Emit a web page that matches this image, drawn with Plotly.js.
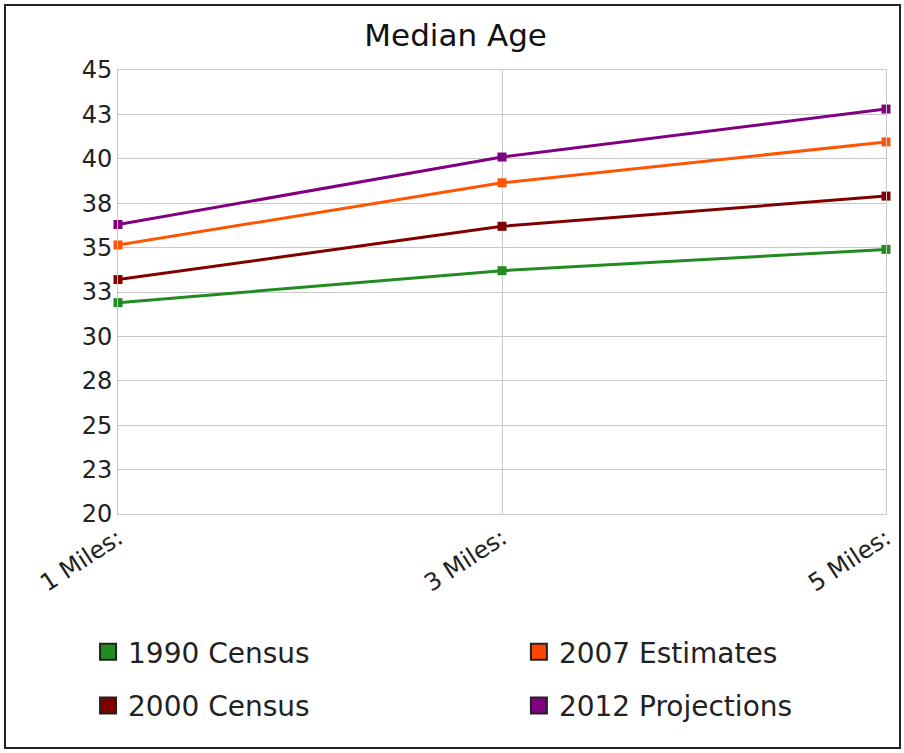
<!DOCTYPE html>
<html>
<head>
<meta charset="utf-8">
<script src="https://cdn.plot.ly/plotly-3.0.1.min.js"></script>
<style>
html,body{margin:0;padding:0;background:#fff;}
#frame{position:absolute;left:4px;top:4px;width:897px;height:745px;border:2px solid #222;box-sizing:border-box;pointer-events:none;z-index:10;}
#chart{position:absolute;left:0;top:0;width:904px;height:753px;}
</style>
</head>
<body>
<div id="chart"></div>
<div id="frame"></div>
<script>
const categories = ["1 Miles:", "3 Miles:", "5 Miles:"];
const census1990 = [31.9, 33.7, 34.9];
const census2000 = [33.2, 36.2, 37.9];
const estimates2007 = [35.15, 38.65, 40.95];
const projections2012 = [36.3, 40.1, 42.8];
const seriesNames = ["1990 Census", "2000 Census", "2007 Estimates", "2012 Projections"];
const seriesColors = ["#228B22", "#800000", "#FF5500", "#800080"];
const legendColors = ["#228B22", "#800000", "#FF4500", "#800080"];
const yTickVals = [20, 22.5, 25, 27.5, 30, 32.5, 35, 37.5, 40, 42.5, 45];
const yTickText = ["20", "23", "25", "28", "30", "33", "35", "38", "40", "43", "45"];

const allSeries = [census1990, census2000, estimates2007, projections2012];
const legendIds = ["legend", "legend3", "legend2", "legend4"];

const traces = allSeries.map((vals, i) => ({
  type: "scatter", mode: "lines+markers",
  x: categories, y: vals, name: seriesNames[i],
  line: {color: seriesColors[i], width: 3},
  marker: {symbol: "square", size: 9, color: seriesColors[i]},
  showlegend: false, cliponaxis: false
}));
allSeries.forEach((vals, i) => {
  traces.push({
    type: "scatter", mode: "markers",
    x: [null], y: [null], name: seriesNames[i],
    marker: {symbol: "square", size: 16, color: legendColors[i], line: {color: "#222", width: 2}},
    showlegend: true, legend: legendIds[i], hoverinfo: "skip"
  });
});

const legFont = {family: "DejaVu Sans", size: 28, color: "#222"};
function leg(x, y) {
  return {x: x, y: y, xanchor: "left", yanchor: "middle", xref: "paper", yref: "paper",
    font: legFont, bgcolor: "rgba(0,0,0,0)", borderwidth: 0, itemsizing: "trace"};
}

const layout = {
  width: 904, height: 753,
  margin: {l: 118, r: 18, t: 70, b: 239},
  paper_bgcolor: "#fff", plot_bgcolor: "#fff",
  font: {family: "DejaVu Sans", color: "#222"},
  title: {text: "Median Age", font: {family: "DejaVu Sans", size: 31, color: "#111"},
    x: 0.504, xanchor: "center", xref: "container", y: 0.953, yanchor: "middle"},
  xaxis: {
    type: "category", range: [0, 2], showgrid: true, gridcolor: "#c8c8c8", gridwidth: 1,
    showline: true, linecolor: "#c8c8c8", linewidth: 1, mirror: true,
    zeroline: false, ticks: "", tickangle: -33,
    tickfont: {family: "DejaVu Sans", size: 24, color: "#222"}
  },
  yaxis: {
    range: [20, 45], tickvals: yTickVals, ticktext: yTickText,
    showgrid: true, gridcolor: "#c8c8c8", gridwidth: 1,
    showline: true, linecolor: "#c8c8c8", linewidth: 1, mirror: true,
    zeroline: false, ticks: "", ticklen: 0,
    tickfont: {family: "DejaVu Sans", size: 24, color: "#222"}
  },
  legend: leg(-0.039, -0.311),
  legend2: leg(0.522, -0.311),
  legend3: leg(-0.039, -0.432),
  legend4: leg(0.522, -0.432),
  showlegend: true
};

Plotly.newPlot("chart", traces, layout, {displayModeBar: false, staticPlot: true});
</script>
</body>
</html>
